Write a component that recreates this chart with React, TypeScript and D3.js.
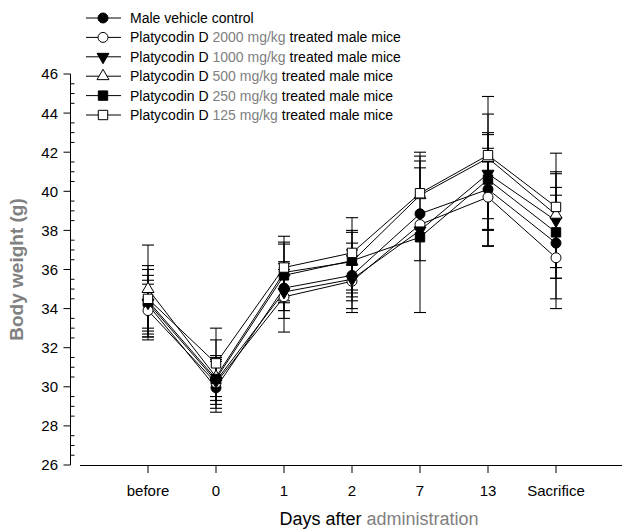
import React from "react";
import * as d3 from "d3";

const days = ["before", "0", "1", "2", "7", "13", "Sacrifice"];
const doses = ["", "2000", "1000", "500", "250", "125"];
const yTicks = [26, 28, 30, 32, 34, 36, 38, 40, 42, 44, 46];

// means, upper and lower error bar ends (g)
const controlMean = [34.2, 29.95, 35.05, 35.7, 38.85, 40.1, 37.35];
const controlHi = [35.7, 31.3, 36.4, 37.35, 41.2, 42.2, 39.8];
const controlLo = [32.55, 28.7, 33.9, 34.4, 36.45, 38.0, 34.5];

const d2000Mean = [33.9, 30.2, 34.6, 35.4, 38.3, 39.7, 36.6];
const d2000Hi = [35.25, 31.6, 36.0, 36.7, 38.3, 41.5, 38.6];
const d2000Lo = [32.4, 28.9, 33.5, 34.0, 38.3, 37.2, 34.0];

const d1000Mean = [34.3, 30.3, 34.85, 35.5, 38.0, 40.9, 38.5];
const d1000Hi = [36.0, 31.5, 36.3, 37.0, 41.55, 43.0, 40.9];
const d1000Lo = [32.7, 29.1, 34.3, 34.95, 38.0, 38.05, 35.55];

const d500Mean = [35.0, 30.5, 35.85, 36.4, 39.8, 41.7, 38.8];
const d500Hi = [37.25, 32.4, 37.3, 38.0, 41.8, 43.95, 41.0];
const d500Lo = [33.0, 29.3, 34.4, 34.6, 39.8, 37.2, 36.1];

const d250Mean = [34.4, 30.4, 35.7, 36.45, 37.65, 40.6, 37.9];
const d250Hi = [35.45, 31.4, 37.4, 37.9, 37.65, 42.9, 40.2];
const d250Lo = [32.55, 29.5, 33.9, 34.8, 33.8, 37.2, 35.55];

const d125Mean = [34.5, 31.2, 36.1, 36.85, 39.9, 41.85, 39.2];
const d125Hi = [36.2, 33.0, 37.7, 38.65, 42.0, 44.85, 41.95];
const d125Lo = [32.85, 29.3, 32.8, 33.8, 39.9, 38.6, 36.1];

const FONT = "'Liberation Sans', Arial, sans-serif";
const GRAY = "#808080";

type Marker = "circle" | "triDown" | "triUp" | "square";

const series = [
  { mean: controlMean, hi: controlHi, lo: controlLo, marker: "circle" as Marker, filled: true },
  { mean: d2000Mean, hi: d2000Hi, lo: d2000Lo, marker: "circle" as Marker, filled: false },
  { mean: d1000Mean, hi: d1000Hi, lo: d1000Lo, marker: "triDown" as Marker, filled: true },
  { mean: d500Mean, hi: d500Hi, lo: d500Lo, marker: "triUp" as Marker, filled: false },
  { mean: d250Mean, hi: d250Hi, lo: d250Lo, marker: "square" as Marker, filled: true },
  { mean: d125Mean, hi: d125Hi, lo: d125Lo, marker: "square" as Marker, filled: false },
];

const symbolPath = (m: Marker) => {
  if (m === "circle") return d3.symbol(d3.symbolCircle, 78)()!;
  if (m === "square") return d3.symbol(d3.symbolSquare, 88)()!;
  return d3.symbol(d3.symbolTriangle, 62)()!;
};

const MarkerShape = ({ m, filled, x, y }: { m: Marker; filled: boolean; x: number; y: number }) => (
  <path
    d={symbolPath(m)}
    transform={`translate(${x},${y})${m === "triDown" ? " rotate(180)" : ""}`}
    fill={filled ? "#000" : "#fff"}
    stroke="#000"
    strokeWidth={1}
  />
);

export default function App() {
  const width = 622;
  const height = 532;

  const x = d3.scaleLinear().domain([0, days.length + 1]).range([80, 624]);
  const y = d3.scaleLinear().domain([26, 46]).range([465, 74]);
  const axisX = 70.5;
  const minor = d3.range(26, 46.01, 0.5).filter((v) => v % 2 !== 0);

  const line = d3
    .line<number>()
    .x((_, i) => x(i + 1))
    .y((d) => y(d));

  return (
    <svg
      width={width}
      height={height}
      style={{ position: "absolute", left: 0, top: 0, background: "#fff" }}
      fontFamily={FONT}
    >
      {/* y axis */}
      <line x1={axisX} x2={axisX} y1={y(46)} y2={y(26)} stroke="#000" strokeWidth={1} />
      {yTicks.map((t) => (
        <g key={t}>
          <line x1={axisX - 7} x2={axisX} y1={y(t)} y2={y(t)} stroke="#000" />
          <text x={58} y={y(t)} dy="0.36em" textAnchor="end" fontSize={15}>
            {t}
          </text>
        </g>
      ))}
      {minor.map((t) => (
        <line key={t} x1={axisX} x2={axisX + 4} y1={y(t)} y2={y(t)} stroke="#000" />
      ))}
      <text
        transform={`translate(23,${y(36)}) rotate(-90)`}
        textAnchor="middle"
        fontSize={19}
        fontWeight="bold"
        fill={GRAY}
      >
        Body weight (g)
      </text>

      {/* x axis */}
      <line x1={80} x2={624} y1={465.5} y2={465.5} stroke="#000" strokeWidth={1} />
      {days.map((d, i) => (
        <g key={d}>
          <line x1={x(i + 1)} x2={x(i + 1)} y1={465} y2={473} stroke="#000" />
          <text x={x(i + 1)} y={496} textAnchor="middle" fontSize={15}>
            {d}
          </text>
        </g>
      ))}
      <text x={379} y={525} textAnchor="middle" fontSize={18}>
        Days after <tspan fill={GRAY}>administration</tspan>
      </text>

      {/* error bars */}
      {series.map((s, si) =>
        s.mean.map((_, i) => {
          const cx = x(i + 1);
          return (
            <g key={`e${si}-${i}`} stroke="#000">
              <line x1={cx} x2={cx} y1={y(s.hi[i])} y2={y(s.lo[i])} strokeWidth={1} />
              {s.hi[i] !== s.mean[i] && (
                <line x1={cx - 6} x2={cx + 6} y1={y(s.hi[i])} y2={y(s.hi[i])} strokeWidth={1.1} />
              )}
              {s.lo[i] !== s.mean[i] && (
                <line x1={cx - 6} x2={cx + 6} y1={y(s.lo[i])} y2={y(s.lo[i])} strokeWidth={1.1} />
              )}
            </g>
          );
        })
      )}

      {/* lines */}
      {series.map((s, si) => (
        <path key={`l${si}`} d={line(s.mean)!} fill="none" stroke="#000" strokeWidth={1} />
      ))}

      {/* markers */}
      {series.map((s, si) =>
        s.mean.map((v, i) => (
          <MarkerShape key={`m${si}-${i}`} m={s.marker} filled={s.filled} x={x(i + 1)} y={y(v)} />
        ))
      )}

      {/* legend */}
      {series.map((s, si) => {
        const ly = 18 + si * 19.4;
        return (
          <g key={`lg${si}`}>
            <line x1={86} x2={121} y1={ly} y2={ly} stroke="#000" />
            <MarkerShape m={s.marker} filled={s.filled} x={103} y={ly} />
            <text x={130} y={ly} dy="0.36em" fontSize={14}>
              {si === 0 ? (
                "Male vehicle control"
              ) : (
                <>
                  Platycodin D <tspan fill={GRAY}>{doses[si]} mg/kg</tspan> treated male mice
                </>
              )}
            </text>
          </g>
        );
      })}
    </svg>
  );
}
